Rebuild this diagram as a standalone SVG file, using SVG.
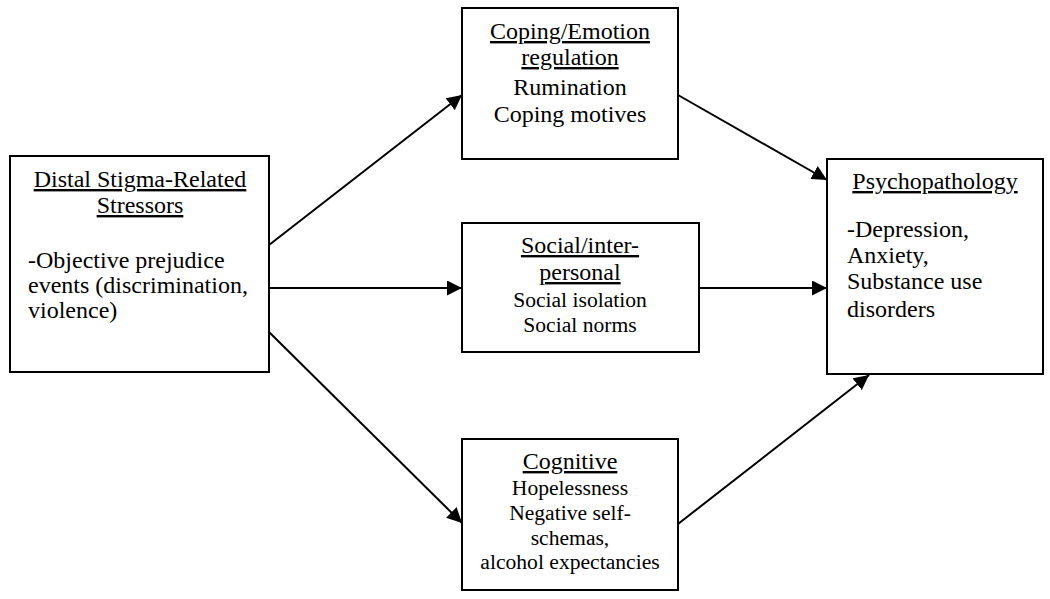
<svg xmlns="http://www.w3.org/2000/svg" width="1050" height="599" viewBox="0 0 1050 599">
<style>
.box{fill:#fff;stroke:#000;stroke-width:2}
.t{font-family:"Liberation Serif","Times New Roman",serif;fill:#000;font-size:24px}
.s{font-size:21.6px}
.c{text-anchor:middle}
.u{text-decoration:underline}
.conn line{stroke:#000;stroke-width:2}
</style>
<defs>
<marker id="ah" viewBox="0 0 10 10" refX="10" refY="5" markerWidth="7.5" markerHeight="7.5" markerUnits="strokeWidth" orient="auto">
<path d="M0,0 L10,5 L0,10 z" fill="#000"/>
</marker>
</defs>
<rect width="1050" height="599" fill="#fff"/>
<g id="connectors" class="conn">
<line x1="269" y1="245" x2="462" y2="95" marker-end="url(#ah)"/>
<line x1="269" y1="288" x2="462" y2="288" marker-end="url(#ah)"/>
<line x1="269" y1="332" x2="462" y2="523" marker-end="url(#ah)"/>
<line x1="678" y1="95" x2="827" y2="180" marker-end="url(#ah)"/>
<line x1="699" y1="288" x2="827" y2="288" marker-end="url(#ah)"/>
<line x1="678" y1="524" x2="869" y2="375" marker-end="url(#ah)"/>
</g>
<g id="distal">
<rect class="box" x="10" y="156" width="259" height="216"/>
<text class="t c u" x="140" y="187">Distal Stigma-Related</text>
<text class="t c u" x="140" y="213">Stressors</text>
<text class="t" x="28" y="268">-Objective prejudice</text>
<text class="t" x="28" y="293">events (discrimination,</text>
<text class="t" x="28" y="318">violence)</text>
</g>
<g id="coping">
<rect class="box" x="462" y="8" width="216" height="151"/>
<text class="t c u" x="570" y="39">Coping/Emotion</text>
<text class="t c u" x="570" y="65">regulation</text>
<text class="t c" x="570" y="95">Rumination</text>
<text class="t c" x="570" y="122">Coping motives</text>
</g>
<g id="social">
<rect class="box" x="462" y="223" width="237" height="129"/>
<text class="t c u" x="580" y="253">Social/inter-</text>
<text class="t c u" x="580" y="280">personal</text>
<text class="t c s" x="580" y="307">Social isolation</text>
<text class="t c s" x="580" y="332">Social norms</text>
</g>
<g id="cognitive">
<rect class="box" x="462" y="439" width="216" height="151"/>
<text class="t c u" x="570" y="469">Cognitive</text>
<text class="t c s" x="570" y="495">Hopelessness</text>
<text class="t c s" x="570" y="520">Negative self-</text>
<text class="t c s" x="570" y="545">schemas,</text>
<text class="t c s" x="570" y="569">alcohol expectancies</text>
</g>
<g id="psychopathology">
<rect class="box" x="827" y="159" width="216" height="215"/>
<text class="t c u" x="935" y="189">Psychopathology</text>
<text class="t" x="847" y="237">-Depression,</text>
<text class="t" x="847" y="263">Anxiety,</text>
<text class="t" x="847" y="289">Substance use</text>
<text class="t" x="847" y="317">disorders</text>
</g>
</svg>
